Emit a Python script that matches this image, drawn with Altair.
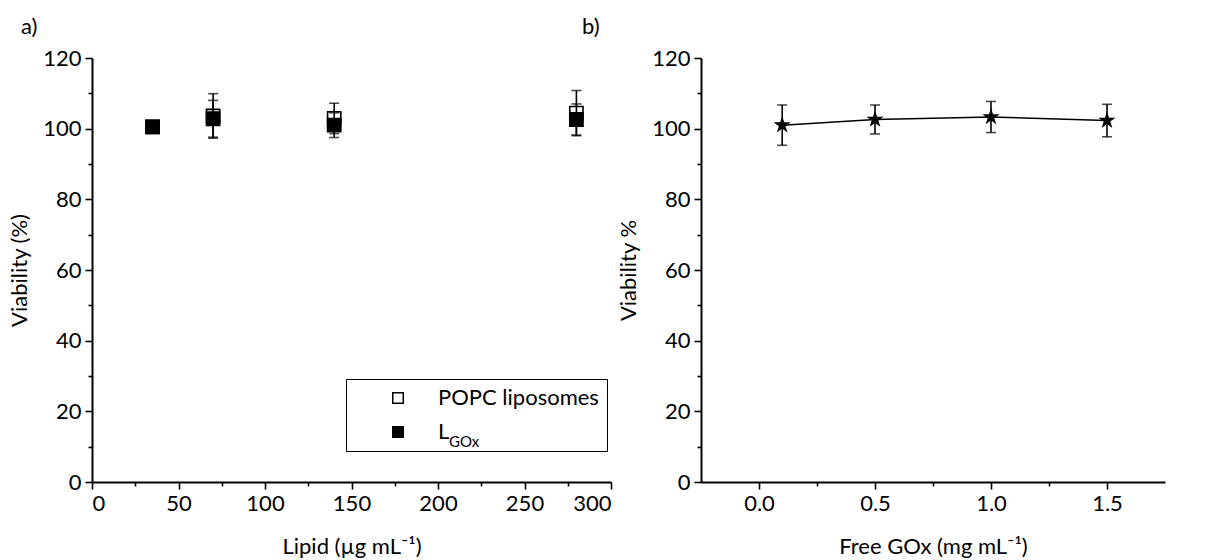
import altair as alt
import pandas as pd

# ---------------- data ----------------
lipid = [35, 70, 140, 280]
popc_mean = [100.5, 103.6, 102.9, 104.4]
popc_err = [1.5, 6.3, 4.3, 6.4]
lgox_mean = [100.5, 102.8, 101.0, 102.6]
lgox_err = [1.5, 5.2, 3.5, 4.4]
series_names = ["POPC liposomes", "LGOx"]

gox = [0.1, 0.5, 1.0, 1.5]
gox_mean = [101.0, 102.6, 103.3, 102.3]
gox_err = [5.7, 4.1, 4.4, 4.6]

y_major = [0, 20, 40, 60, 80, 100, 120]
y_minor = [10, 30, 50, 70, 90, 110]
a_major = [0, 50, 100, 150, 200, 250, 300]
a_minor = [25, 75, 125, 175, 225, 275]
b_major = [0.0, 0.5, 1.0, 1.5]
b_minor = [0.25, 0.75, 1.25]

FONT = "Lato"
STAR = ("M0,-1L0.2245,-0.309L0.951,-0.309L0.363,0.118L0.588,0.809L0,0.382"
        "L-0.588,0.809L-0.363,0.118L-0.951,-0.309L-0.2245,-0.309Z")

df_a = pd.concat([
    pd.DataFrame({"x": lipid, "mean": popc_mean, "err": popc_err, "series": series_names[0]}),
    pd.DataFrame({"x": lipid, "mean": lgox_mean, "err": lgox_err, "series": series_names[1]}),
], ignore_index=True)
df_b = pd.DataFrame({"x": gox, "mean": gox_mean, "err": gox_err})

sy = alt.Scale(domain=[0, 120], nice=False, zero=False)
sx_a = alt.Scale(domain=[0, 300], nice=False, zero=False)
sx_b = alt.Scale(domain=[-0.25, 1.75], nice=False, zero=False)


def major_axis(values, title, orient, fmt=None):
    kw = dict(values=values, title=title, orient=orient, grid=False)
    if fmt:
        kw["format"] = fmt
    if orient == "bottom":
        kw["titlePadding"] = 22
    return alt.Axis(**kw)


def minor_axis(values, orient):
    return alt.Axis(values=values, orient=orient, labels=False, domain=False,
                    title=None, tickSize=4, grid=False)


def errbars(data, xscale):
    base = alt.Chart(data).transform_calculate(
        lo="datum.mean - datum.err", hi="datum.mean + datum.err")
    rule = base.mark_rule(color="black", strokeWidth=1.6).encode(
        x=alt.X("x:Q", scale=xscale, axis=None),
        y=alt.Y("lo:Q", scale=sy, axis=None),
        y2="hi:Q",
    )
    cap_lo = base.mark_tick(color="black", orient="horizontal", size=10, thickness=1.6).encode(
        x=alt.X("x:Q", scale=xscale, axis=None),
        y=alt.Y("lo:Q", scale=sy, axis=None),
    )
    cap_hi = base.mark_tick(color="black", orient="horizontal", size=10, thickness=1.6).encode(
        x=alt.X("x:Q", scale=xscale, axis=None),
        y=alt.Y("hi:Q", scale=sy, axis=None),
    )
    return [rule, cap_lo, cap_hi]


legend = alt.Legend(
    orient="none", legendX=254, legendY=321, title=None,
    strokeColor="black", padding=8,
    symbolOffset=33, labelOffset=29, rowPadding=12, labelLimit=400,
    labelFont=FONT, labelFontSize=22, labelColor="black",
    symbolType="square", symbolSize=110, symbolStrokeColor="black",
    symbolStrokeWidth=1.5,
    labelExpr="datum.label == 'LGOx' ? 'L' : datum.label",
)
fill_scale = alt.Scale(domain=series_names, range=["white", "black"])


def squares(name):
    return alt.Chart(df_a).transform_filter(alt.datum.series == name).mark_point(
        shape="square", filled=True, stroke="black", strokeWidth=1.6, size=175, opacity=1
    ).encode(
        x=alt.X("x:Q", scale=sx_a, axis=None),
        y=alt.Y("mean:Q", scale=sy, axis=None),
        fill=alt.Fill("series:N", scale=fill_scale, legend=legend),
    )


axes_a = alt.Chart(df_a).mark_point(opacity=0).encode(
    x=alt.X("x:Q", scale=sx_a, axis=major_axis(a_major, "Lipid (µg mL⁻¹)", "bottom")),
    y=alt.Y("mean:Q", scale=sy, axis=major_axis(y_major, "Viability (%)", "left")),
)
minor_a = alt.Chart(df_a).mark_point(opacity=0).encode(
    x=alt.X("x:Q", scale=sx_a, axis=minor_axis(a_minor, "bottom")),
    y=alt.Y("mean:Q", scale=sy, axis=minor_axis(y_minor, "left")),
)
sub = alt.Chart(pd.DataFrame({"t": ["GOx"]})).mark_text(
    align="left", baseline="alphabetic", font=FONT, fontSize=15, color="black"
).encode(x=alt.value(357), y=alt.value(389), text="t:N")

pop_data = df_a[df_a.series == series_names[0]]
lg_data = df_a[df_a.series == series_names[1]]

panel_a = alt.layer(
    axes_a, minor_a,
    *errbars(pop_data, sx_a), squares(series_names[0]),
    *errbars(lg_data, sx_a), squares(series_names[1]),
    sub,
).resolve_axis(x="independent", y="independent").properties(
    width=519, height=424,
    title=alt.TitleParams("a)", anchor="start", frame="group", dx=-71, offset=-9,
                          baseline="alphabetic", font=FONT, fontSize=22,
                          fontWeight="normal", color="black"),
)

axes_b = alt.Chart(df_b).mark_point(opacity=0).encode(
    x=alt.X("x:Q", scale=sx_b, axis=major_axis(b_major, "Free GOx (mg mL⁻¹)", "bottom", ".1f")),
    y=alt.Y("mean:Q", scale=sy, axis=major_axis(y_major, "Viability %", "left")),
)
minor_b = alt.Chart(df_b).mark_point(opacity=0).encode(
    x=alt.X("x:Q", scale=sx_b, axis=minor_axis(b_minor, "bottom")),
    y=alt.Y("mean:Q", scale=sy, axis=minor_axis(y_minor, "left")),
)
line_b = alt.Chart(df_b).mark_line(color="black", strokeWidth=1.5).encode(
    x=alt.X("x:Q", scale=sx_b, axis=None),
    y=alt.Y("mean:Q", scale=sy, axis=None),
)
stars_b = alt.Chart(df_b).mark_point(
    shape=STAR, filled=True, color="black", size=330, opacity=1
).encode(
    x=alt.X("x:Q", scale=sx_b, axis=None),
    y=alt.Y("mean:Q", scale=sy, axis=None),
)

panel_b = alt.layer(
    axes_b, minor_b, line_b, *errbars(df_b, sx_b), stars_b,
).resolve_axis(x="independent", y="independent").properties(
    width=464, height=424,
    title=alt.TitleParams("b)", anchor="start", frame="group", dx=-119, offset=-9,
                          baseline="alphabetic", font=FONT, fontSize=22,
                          fontWeight="normal", color="black"),
)

chart = alt.hconcat(panel_a, panel_b, spacing=90, bounds="flush").properties(
    padding={"left": 8, "top": 16, "right": 5, "bottom": 5}
).configure_axis(
    domainColor="black", domainWidth=2, tickColor="black", tickWidth=1.6,
    tickSize=7, labelFont=FONT, labelFontSize=22, labelColor="black",
    labelPadding=4, titleFont=FONT, titleFontSize=22, titleFontWeight="normal",
    titleColor="black", titlePadding=11, grid=False,
).configure_view(stroke=None).configure_title(anchor="start")

chart.save("out.html", embed_options={"renderer": "svg", "actions": False})
